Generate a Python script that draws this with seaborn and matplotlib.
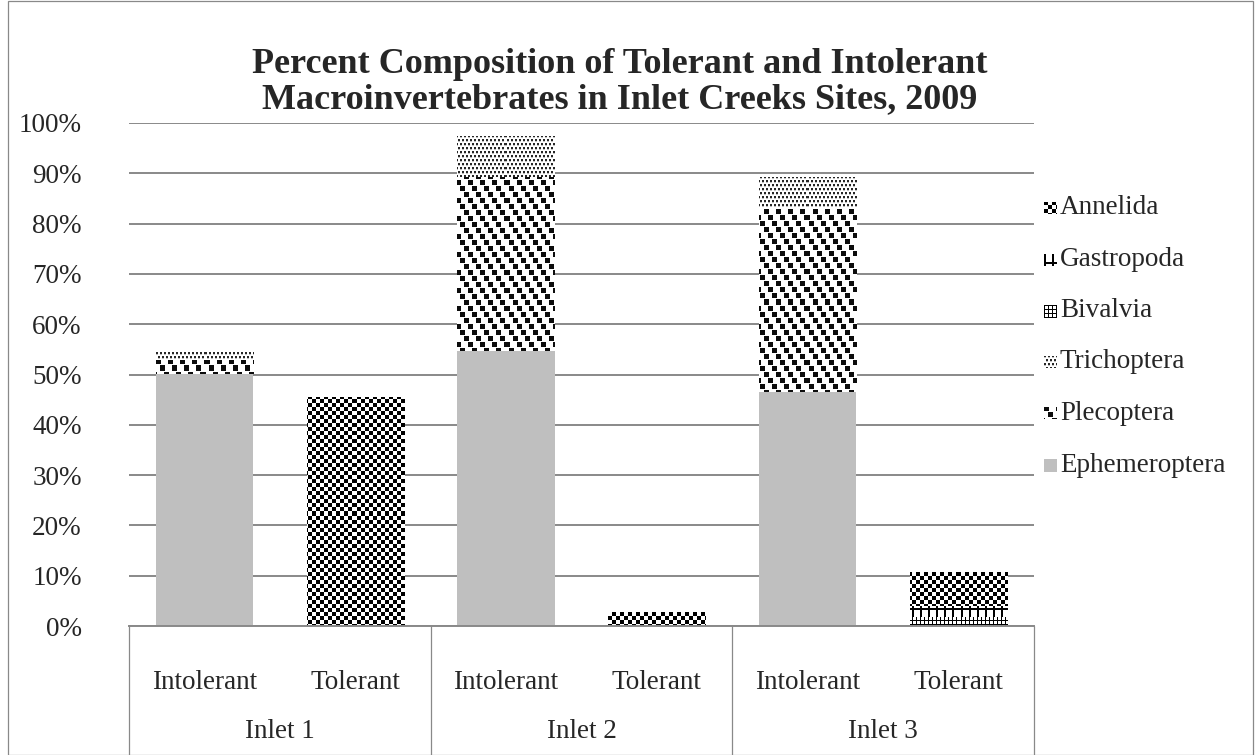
import numpy as np
import pandas as pd
import matplotlib
matplotlib.use("Agg")
import matplotlib.pyplot as plt
from matplotlib.patches import Rectangle
import seaborn as sns

# ---- data (percent of total individuals per site) ----
sites = ["Inlet 1", "Inlet 1", "Inlet 2", "Inlet 2", "Inlet 3", "Inlet 3"]
tolerance = ["Intolerant", "Tolerant", "Intolerant", "Tolerant", "Intolerant", "Tolerant"]
site_names = ["Inlet 1", "Inlet 2", "Inlet 3"]

ephemeroptera = [50.1, 0.0, 54.7, 0.0, 46.6, 0.0]
plecoptera = [2.8, 0.0, 34.5, 0.0, 36.6, 0.0]
trichoptera = [1.7, 0.0, 8.1, 0.0, 6.1, 0.0]
bivalvia = [0.0, 0.0, 0.0, 0.0, 0.0, 1.7]
gastropoda = [0.0, 0.0, 0.0, 0.0, 0.0, 2.3]
annelida = [0.0, 45.4, 0.0, 2.7, 0.0, 6.7]

taxa = ["Ephemeroptera", "Plecoptera", "Trichoptera", "Bivalvia", "Gastropoda", "Annelida"]
values = [ephemeroptera, plecoptera, trichoptera, bivalvia, gastropoda, annelida]

y_ticks = [0, 10, 20, 30, 40, 50, 60, 70, 80, 90, 100]

title = ("Percent Composition of Tolerant and Intolerant\n"
         "Macroinvertebrates in Inlet Creeks Sites, 2009")


# ---- fill textures (0 = black, 1 = white) ----
def make_tile(kind):
    if kind == "checker":
        t = np.ones((8, 8))
        t[:4, :4] = 0
        t[4:, 4:] = 0
        return t
    if kind == "confetti":
        t = np.ones((18, 12))
        for r, c in [(0, 0), (6, 4), (12, 8)]:
            for dr in range(5):
                for dc in range(5):
                    t[(r + dr) % 18, (c + dc) % 12] = 0.05
        return t
    if kind == "dots":
        t = np.ones((8, 8))
        for r, c in [(0, 0), (0, 4), (4, 2), (4, 6)]:
            t[r:r + 2, c:c + 2] = 0.15
            t[r + 2, c:c + 2] = 0.75
        return t
    if kind == "grid":
        t = np.ones((4, 4))
        t[0, :] = 0
        t[:, 0] = 0
        return t
    if kind == "bars":
        t = np.ones((12, 8))
        t[:, 0:2] = 0
        t[9:11, :] = 0
        return t
    return None


fills = {
    "Ephemeroptera": ("#BFBFBF", None),
    "Plecoptera": ("white", "confetti"),
    "Trichoptera": ("white", "dots"),
    "Bivalvia": ("white", "grid"),
    "Gastropoda": ("white", "bars"),
    "Annelida": ("white", "checker"),
}

# ---- figure ----
sns.set_style("white")
plt.rcParams["font.family"] = ["Liberation Serif", "DejaVu Serif"]

W_PX, H_PX, DPI = 1255, 755, 100
fig = plt.figure(figsize=(W_PX / DPI, H_PX / DPI), dpi=DPI)
ax = fig.add_axes([129 / W_PX, 129 / H_PX, 905 / W_PX, 503 / H_PX])

df = pd.DataFrame({"site": sites, "tolerance": tolerance})
df["bar"] = [f"{s} {t}" for s, t in zip(sites, tolerance)]
order = list(df["bar"])

bottom = np.zeros(len(df))
bar_patches = {}
for name, vals in zip(taxa, values):
    df["value"] = vals
    n_before = len(ax.patches)
    sns.barplot(data=df, x="bar", y="value", order=order, color=fills[name][0],
                width=0.646, saturation=1, linewidth=0, bottom=bottom.copy(),
                errorbar=None, ax=ax)
    bar_patches[name] = ax.patches[n_before:]
    bottom += np.asarray(vals)

ax.set_xlim(-0.5, len(order) - 0.5)
ax.set_ylim(0, 100)

# grid + axes styling
ax.set_axisbelow(True)
ax.yaxis.grid(True, color="#898989", linewidth=1.4)
ax.xaxis.grid(False)
for side in ["left", "top", "right"]:
    ax.spines[side].set_visible(False)
ax.spines["bottom"].set_color("#898989")
ax.spines["bottom"].set_linewidth(1.4)

ax.set_yticks(y_ticks)
ax.set_yticklabels([f"{v}%" for v in y_ticks])
ax.tick_params(axis="y", length=0, pad=34, labelsize=19.5)
ax.set_xticks(range(len(order)))
ax.set_xticklabels(tolerance)
ax.tick_params(axis="x", length=0, pad=32, labelsize=19.5)
ax.set_xlabel("")
ax.set_ylabel("")

# second level of category labels and separators
xt = ax.get_xaxis_transform()
bottom_y = -(129 / H_PX) / (503 / H_PX)
for k in range(len(site_names) + 1):
    ax.plot([2 * k - 0.5, 2 * k - 0.5], [0, bottom_y], transform=xt,
            color="#898989", linewidth=0.9, clip_on=False)
for k, s in enumerate(site_names):
    ax.text(2 * k + 0.5, -105 / 503, s, transform=xt, ha="center", va="center",
            fontsize=19.5)

# apply textures on top of patterned bars
fig.canvas.draw()
for name in taxa:
    kind = fills[name][1]
    if kind is None:
        continue
    tile = make_tile(kind)
    th, tw = tile.shape
    for p in bar_patches[name]:
        h = p.get_height()
        if h <= 0:
            continue
        x0, y0, w = p.get_x(), p.get_y(), p.get_width()
        (px0, py0), (px1, py1) = ax.transData.transform([(x0, y0), (x0 + w, y0 + h)])
        Wp = max(int(round(px1 - px0)), 1)
        Hp = max(int(round(py1 - py0)), 1)
        top_row = int(round(H_PX - py1))
        rows = (top_row + np.arange(Hp)) % th
        cols = (int(round(px0)) + np.arange(Wp)) % tw
        img = tile[np.ix_(rows, cols)]
        ax.imshow(img, extent=(x0, x0 + w, y0, y0 + h), origin="upper",
                  cmap="gray", vmin=0, vmax=1, interpolation="nearest",
                  aspect="auto", zorder=p.get_zorder() + 0.01)
ax.set_xlim(-0.5, len(order) - 0.5)
ax.set_ylim(0, 100)

# legend (top entry = top of stack)
leg_y = [208, 260, 311, 362, 413, 465]
for name, yc in zip(taxa[::-1], leg_y):
    face, kind = fills[name]
    size = 13
    lax = fig.add_axes([1044 / W_PX, (H_PX - yc - size / 2) / H_PX, size / W_PX, size / H_PX])
    lax.set_axis_off()
    if kind is None:
        lax.add_patch(Rectangle((0, 0), 1, 1, color=face, transform=lax.transAxes))
    else:
        tile = make_tile(kind)
        th, tw = tile.shape
        img = tile[np.ix_(np.arange(size) % th, np.arange(size) % tw)]
        lax.imshow(img, cmap="gray", vmin=0, vmax=1, interpolation="nearest", aspect="auto")
    fig.text(1060 / W_PX, 1 - yc / H_PX, name, ha="left", va="center", fontsize=19.5)

# title
fig.text(620 / W_PX, 1 - 82 / H_PX, title, ha="center", va="center",
         fontsize=26, fontweight="bold", linespacing=1.1)

# chart area border
fig.patches.append(Rectangle((8 / W_PX, 0.0), (W_PX - 10) / W_PX, 1 - 1 / H_PX,
                             transform=fig.transFigure, fill=False,
                             edgecolor="#898989", linewidth=0.9))

fig.savefig("out.png", dpi=DPI)
